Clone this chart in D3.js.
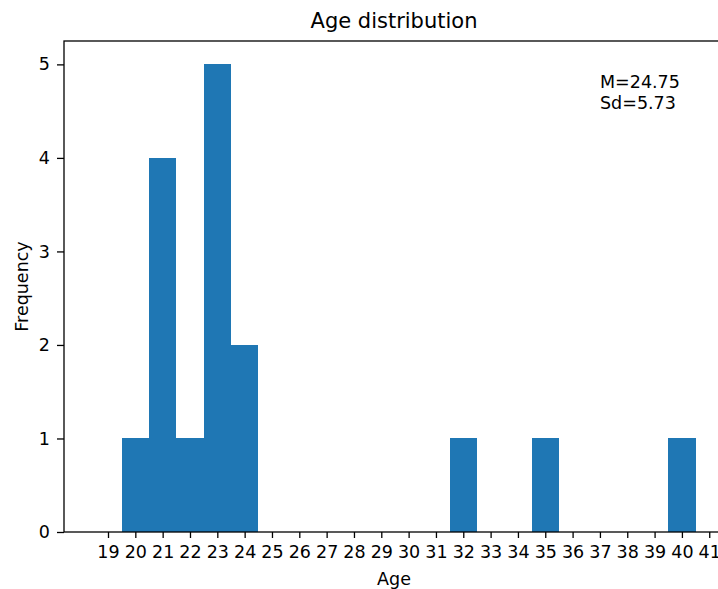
<!DOCTYPE html>
<html>
<head>
<meta charset="utf-8">
<script src="https://cdn.jsdelivr.net/npm/d3@7"></script>
<style>
  body { margin: 0; background: #fff; }
  text { font-family: "DejaVu Sans", sans-serif; fill: #000; }
</style>
</head>
<body>
<div id="chart"></div>
<script>
width = 718;
height = 589;

margin = { top: 41, right: -6, bottom: 57, left: 64 };

//////// Data ////////
// histogram of ages, one bin per year (centred on the tick)
const binAges = [20, 21, 22, 23, 24, 32, 35, 40];
const binCounts = [1, 4, 1, 5, 2, 1, 1, 1];
const xTicks = d3.range(19, 42);
const yTicks = [0, 1, 2, 3, 4, 5];

// rebuild the raw sample to get the stats in the corner
const sample = binAges.flatMap((a, i) => d3.range(binCounts[i]).map(() => a));
const meanAge = d3.mean(sample);
const sdAge = d3.deviation(sample);

//////// Scales ////////
const xScale = d3.scaleLinear()
    .domain([17.39, 41.54])
    .range([margin.left, width - margin.right]);

const yScale = d3.scaleLinear()
    .domain([0, 5.25])
    .range([height - margin.bottom, margin.top]);

const svg = d3.select('#chart')
    .append('svg')
    .attr('width', width)
    .attr('height', height);

//////// Bars ////////
svg.append('g')
    .attr('shape-rendering', 'crispEdges')
    .selectAll('rect')
    .data(binAges)
    .join('rect')
    .attr('x', d => xScale(d - 0.5))
    .attr('width', d => xScale(d + 0.5) - xScale(d - 0.5))
    .attr('y', (d, i) => yScale(binCounts[i]))
    .attr('height', (d, i) => yScale(0) - yScale(binCounts[i]))
    .attr('fill', '#1f77b4');

//////// Axes ////////
const xAxis = d3.axisBottom(xScale)
    .tickValues(xTicks)
    .tickFormat(d3.format('d'))
    .tickSize(6)
    .tickPadding(8)
    .tickSizeOuter(0);

svg.append('g')
    .attr('transform', `translate(0,${height - margin.bottom})`)
    .call(xAxis)
    .call(g => g.select('.domain').remove())
    .call(g => g.selectAll('line').attr('stroke', '#000').attr('stroke-width', 1.3))
    .call(g => g.selectAll('text').style('font-size', '17.5px').attr('fill', '#000').style('font-family', '"DejaVu Sans"'));

const yAxis = d3.axisLeft(yScale)
    .tickValues(yTicks)
    .tickFormat(d3.format('d'))
    .tickSize(7)
    .tickPadding(7)
    .tickSizeOuter(0);

svg.append('g')
    .attr('transform', `translate(${margin.left},0)`)
    .call(yAxis)
    .call(g => g.select('.domain').remove())
    .call(g => g.selectAll('line').attr('stroke', '#000').attr('stroke-width', 1.3))
    .call(g => g.selectAll('text').style('font-size', '17.5px').attr('fill', '#000').style('font-family', '"DejaVu Sans"'));

// frame (right side falls outside the window)
svg.append('rect')
    .attr('x', margin.left)
    .attr('y', margin.top)
    .attr('width', width - margin.right - margin.left)
    .attr('height', height - margin.bottom - margin.top)
    .attr('fill', 'none')
    .attr('stroke', '#000')
    .attr('stroke-width', 1.3);

//////// Labels ////////
const midX = (margin.left + width - margin.right) / 2;

svg.append('text')
    .attr('x', midX)
    .attr('y', 28)
    .attr('text-anchor', 'middle')
    .style('font-size', '21px')
    .text('Age distribution');

svg.append('text')
    .attr('x', midX)
    .attr('y', 585)
    .attr('text-anchor', 'middle')
    .style('font-size', '17.5px')
    .text('Age');

svg.append('text')
    .attr('transform', `translate(28,${(margin.top + height - margin.bottom) / 2}) rotate(-90)`)
    .attr('text-anchor', 'middle')
    .style('font-size', '17.5px')
    .text('Frequency');

const stats = svg.append('text')
    .style('font-size', '17.5px');
stats.append('tspan').attr('x', 600).attr('y', 88).text('M=' + meanAge.toFixed(2));
stats.append('tspan').attr('x', 600).attr('y', 109).text('Sd=' + sdAge.toFixed(2));
</script>
</body>
</html>
